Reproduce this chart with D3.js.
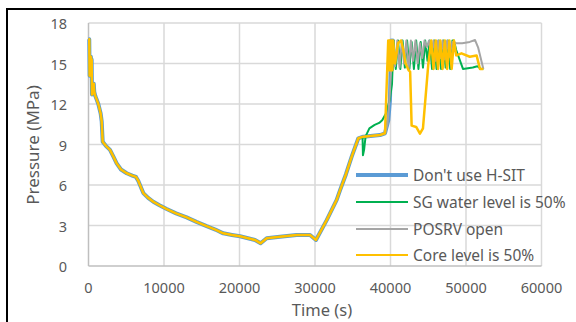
<!DOCTYPE html>
<html>
<head>
<meta charset="utf-8">
<script src="https://cdn.jsdelivr.net/npm/d3@7"></script>
<style>
  body { margin: 0; background: #fff; }
  text { font-family: "Noto Sans", "Open Sans", sans-serif; fill: #595959; }
</style>
</head>
<body>
<div id="container"></div>
<script>
// shared cooldown part, all four cases lie on top of each other here
let baseTime = [0, 100, 150, 200, 260, 320, 380, 420, 460, 560, 700, 760, 900, 1300, 1610, 1750, 1880, 2300, 2850,
  3300, 3730, 4300, 5060, 5800, 6290, 6600, 7260, 7900, 8580, 9400, 10360, 11600, 13000, 14300, 15650, 16800,
  17850, 19000, 20070, 22050, 22800, 23600, 25360, 27570, 29340, 30130, 31550, 32870, 33310, 34100, 34860,
  35740, 36400, 38610, 39270];
let basePres = [16.8, 16.8, 14.1, 15.4, 14.3, 15.5, 14.4, 15.3, 12.7, 12.8, 13.5, 12.9, 12.6, 12.0, 11.3, 10.7, 9.2, 8.9, 8.6,
  8.1, 7.6, 7.15, 6.87, 6.7, 6.6, 6.3, 5.4, 5.05, 4.76, 4.5, 4.22, 3.9, 3.6, 3.27, 2.95, 2.7,
  2.42, 2.3, 2.2, 1.93, 1.68, 2.05, 2.17, 2.3, 2.3, 1.93, 3.4, 4.9, 5.6, 6.8, 8.1,
  9.46, 9.58, 9.7, 9.83];

// tails after the common part
let blueTime = [39710, 39930, 40100, 40200, 40300, 40400];
let bluePres = [10.8, 12.3, 16.7, 14.6, 16.7, 16.6];

let greenTime = [36300, 36350, 36500, 36700, 37200, 37900, 38500, 38900, 39400, 39900, 40200, 40400, 40700, 41000, 41300,
  41600, 41900, 42200, 42500, 42800, 43100, 43400, 43700, 44000, 44300, 44600, 44900, 45200, 45500, 45800,
  46100, 46400, 46700, 47000, 47300, 47600, 47900, 48200, 48400, 48700, 49600, 50900, 51500, 52000, 52300];
let greenPres = [9.5, 8.2, 8.6, 9.6, 10.2, 10.45, 10.6, 10.8, 11.3, 12.3, 13.5, 16.7, 14.6, 16.7, 14.6,
  16.7, 14.7, 16.7, 14.6, 16.6, 14.6, 16.7, 14.6, 16.6, 14.7, 16.7, 15.2, 16.7, 14.6, 16.7,
  14.6, 16.7, 14.6, 16.7, 14.7, 16.7, 14.6, 16.7, 16.7, 16.0, 14.6, 14.7, 14.8, 14.6, 14.6];

let grayTime = [39600, 39900, 40300, 40600, 40900, 41200, 41500, 41800, 42100, 42400, 42700, 43000, 43300, 43600,
  43900, 44200, 44500, 44800, 45100, 45400, 45700, 46000, 46300, 46600, 46900, 47200, 47500, 47800, 48200,
  48700, 49500, 50500, 51200, 51600, 52300];
let grayPres = [10.5, 12.7, 16.7, 14.8, 16.7, 14.7, 16.7, 15.0, 16.7, 14.6, 16.7, 15.2, 16.7, 15.0,
  16.5, 15.4, 16.7, 16.2, 16.7, 15.8, 16.7, 15.2, 16.7, 15.4, 16.7, 15.3, 16.7, 15.5, 16.6,
  16.5, 16.5, 16.6, 16.74, 16.2, 14.6];

let yellowTime = [39700, 39750, 39850, 39900, 39950, 40050, 40150, 40250, 40350, 40600, 41000, 41400, 41700, 42000,
  42400, 42600, 42800, 43400, 43900, 44300, 45000, 45400, 45700, 46000, 46300, 46600, 46900, 47200, 47500,
  47800, 48100, 48400, 48700, 49400, 50500, 51400, 51850, 52300];
let yellowPres = [16.7, 14.5, 16.7, 14.5, 16.7, 14.5, 16.7, 14.5, 16.7, 15.0, 16.5, 16.7, 16.0, 15.0,
  14.5, 14.4, 10.4, 10.3, 9.8, 10.2, 14.9, 16.7, 14.6, 16.7, 14.6, 16.7, 14.6, 16.7, 14.6,
  16.7, 14.6, 16.7, 15.6, 15.75, 15.5, 15.6, 14.6, 14.6];

let seriesNames = ["Don't use H-SIT", "SG water level is 50%", "POSRV open", "Core level is 50%"];
let seriesColors = ["#5b9bd5", "#00b050", "#a5a5a5", "#ffc000"];
let seriesWidths = [4, 2, 2, 2.5];

let xTicks = [0, 10000, 20000, 30000, 40000, 50000, 60000];
let yTicks = [0, 3, 6, 9, 12, 15, 18];

let w = 576;
let h = 322;

function joinSeries(tTail, pTail){
    let pts = [];
    let lastT = tTail[0];
    for (let i = 0; i < baseTime.length; i++){
        if (baseTime[i] < lastT) pts.push([baseTime[i], basePres[i]]);
    }
    for (let i = 0; i < tTail.length; i++) pts.push([tTail[i], pTail[i]]);
    return pts;
}

let allSeries = [
    joinSeries(blueTime, bluePres),
    joinSeries(greenTime, greenPres),
    joinSeries(grayTime, grayPres),
    joinSeries(yellowTime, yellowPres)
];

let viz = d3.select("#container")
  .append("svg")
    .attr("width", w)
    .attr("height", h)
;

let xScale = d3.scaleLinear().domain([0, 60000]).range([88.5, 541.5]);
let yScale = d3.scaleLinear().domain([0, 18]).range([266, 23]);

// grid
viz.append("g").selectAll("line").data(yTicks.slice(1)).enter().append("line")
    .attr("x1", xScale(0)).attr("x2", xScale(60000))
    .attr("y1", d => yScale(d)).attr("y2", d => yScale(d))
    .attr("stroke", "#d9d9d9").attr("stroke-width", 1.5);
viz.append("g").selectAll("line").data(xTicks.slice(1)).enter().append("line")
    .attr("x1", d => xScale(d)).attr("x2", d => xScale(d))
    .attr("y1", yScale(0)).attr("y2", yScale(18))
    .attr("stroke", "#d9d9d9").attr("stroke-width", 1.5);

// axes lines
viz.append("line").attr("x1", xScale(0)).attr("x2", xScale(60000))
    .attr("y1", yScale(0)).attr("y2", yScale(0))
    .attr("stroke", "#bfbfbf").attr("stroke-width", 1.5);
viz.append("line").attr("x1", xScale(0)).attr("x2", xScale(0))
    .attr("y1", yScale(0)).attr("y2", yScale(18))
    .attr("stroke", "#bfbfbf").attr("stroke-width", 1.5);

// tick labels
viz.append("g").selectAll("text").data(yTicks).enter().append("text")
    .text(d => d)
    .attr("x", 67).attr("y", d => yScale(d))
    .attr("text-anchor", "end")
    .attr("dominant-baseline", "central")
    .style("font-size", "14.5px");
viz.append("g").selectAll("text").data(xTicks).enter().append("text")
    .text(d => d)
    .attr("x", d => xScale(d)).attr("y", 286.5)
    .attr("text-anchor", "middle")
    .attr("dominant-baseline", "central")
    .style("font-size", "14.5px");

// axis titles
viz.append("text").text("Time (s)")
    .attr("x", 322).attr("y", 316)
    .attr("text-anchor", "middle")
    .style("font-size", "16.5px");
viz.append("text").text("Pressure (MPa)")
    .attr("transform", "translate(32,145) rotate(-90)")
    .attr("text-anchor", "middle")
    .attr("dominant-baseline", "central")
    .style("font-size", "17px");

// data lines
let line = d3.line().x(d => xScale(d[0])).y(d => yScale(d[1]));
viz.append("g").selectAll("path").data(allSeries).enter().append("path")
    .attr("d", line)
    .attr("fill", "none")
    .attr("stroke", (d, i) => seriesColors[i])
    .attr("stroke-width", (d, i) => seriesWidths[i])
    .attr("stroke-linejoin", "round");

// legend
let legendRows = [175, 202, 229, 255];
let legend = viz.append("g").selectAll("g").data(seriesNames).enter().append("g")
    .attr("transform", (d, i) => "translate(356," + legendRows[i] + ")");
legend.append("line")
    .attr("x1", 0).attr("x2", 52).attr("y1", 0).attr("y2", 0)
    .attr("stroke", (d, i) => seriesColors[i])
    .attr("stroke-width", (d, i) => i == 0 ? 4 : 2);
legend.append("text").text(d => d)
    .attr("x", 57).attr("y", 0)
    .attr("dominant-baseline", "central")
    .style("font-size", "15.5px");

// outer frame (only top and left edges are visible)
viz.append("path")
    .attr("d", "M7,322 L7,9 L576,9")
    .attr("fill", "none")
    .attr("stroke", "#000")
    .attr("stroke-width", 2);
</script>
</body>
</html>
